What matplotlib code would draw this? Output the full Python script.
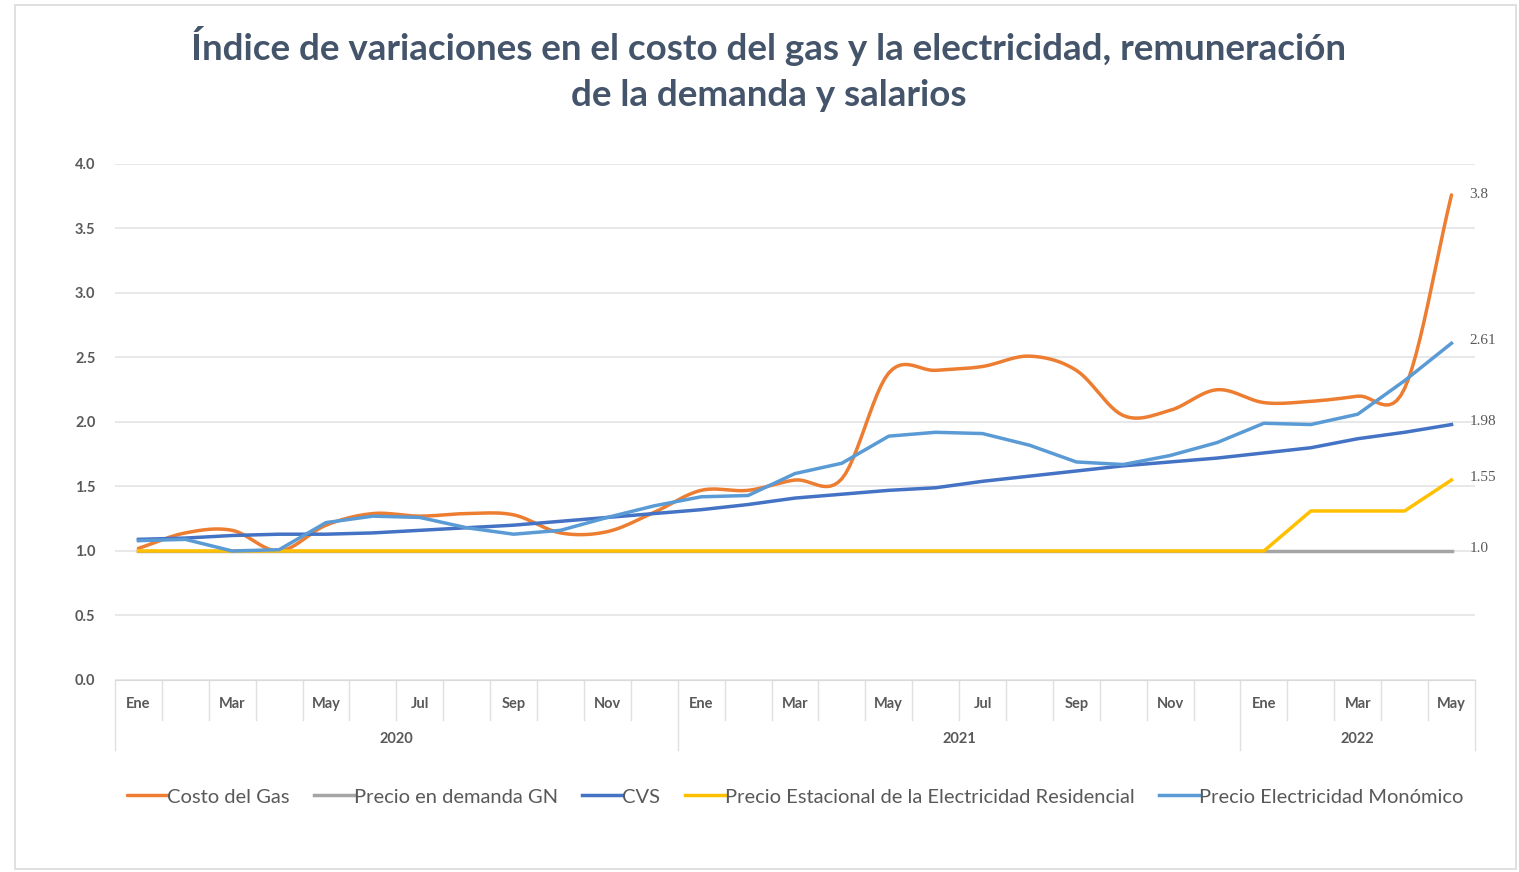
import matplotlib
matplotlib.use("Agg")
import matplotlib.pyplot as plt
import numpy as np

plt.rcParams["font.family"] = ["Lato", "DejaVu Sans"]

months = ["Ene", "Feb", "Mar", "Abr", "May", "Jun", "Jul", "Ago", "Sep", "Oct", "Nov", "Dic"] * 2 + \
         ["Ene", "Feb", "Mar", "Abr", "May"]
years = ["2020", "2021", "2022"]
year_len = [12, 12, 5]

costo_gas = [1.02, 1.14, 1.16, 1.00, 1.20, 1.29, 1.27, 1.29, 1.28, 1.14, 1.15, 1.30,
             1.47, 1.47, 1.55, 1.56, 2.38, 2.40, 2.43, 2.51, 2.40, 2.05, 2.09, 2.25,
             2.15, 2.16, 2.20, 2.26, 3.76]
demanda_gn = [1.0] * 29
cvs = [1.09, 1.10, 1.12, 1.13, 1.13, 1.14, 1.16, 1.18, 1.20, 1.23, 1.26, 1.29,
       1.32, 1.36, 1.41, 1.44, 1.47, 1.49, 1.54, 1.58, 1.62, 1.66, 1.69, 1.72,
       1.76, 1.80, 1.87, 1.92, 1.98]
estacional = [1.0] * 25 + [1.31, 1.31, 1.31, 1.55]
monomico = [1.08, 1.09, 1.00, 1.01, 1.22, 1.27, 1.26, 1.18, 1.13, 1.16, 1.26, 1.35,
            1.42, 1.43, 1.60, 1.68, 1.89, 1.92, 1.91, 1.82, 1.69, 1.67, 1.74, 1.84,
            1.99, 1.98, 2.06, 2.32, 2.61]

end_labels = ["3.8", "2.61", "1.98", "1.55", "1.0"]
end_values = [3.76, 2.61, 1.98, 1.55, 1.0]


def smooth(x, y, n=12):
    # catmull-rom curve through the points, like excel's smoothed line
    x = np.asarray(x, float)
    y = np.asarray(y, float)
    px = np.concatenate([[2 * x[0] - x[1]], x, [2 * x[-1] - x[-2]]])
    py = np.concatenate([[2 * y[0] - y[1]], y, [2 * y[-1] - y[-2]]])
    xs, ys = [], []
    t = np.linspace(0, 1, n, endpoint=False)
    for i in range(1, len(px) - 2):
        for p, out in ((px, xs), (py, ys)):
            p0, p1, p2, p3 = p[i - 1], p[i], p[i + 1], p[i + 2]
            out.extend(0.5 * (2 * p1 + (-p0 + p2) * t + (2 * p0 - 5 * p1 + 4 * p2 - p3) * t ** 2
                              + (-p0 + 3 * p1 - 3 * p2 + p3) * t ** 3))
    xs.append(x[-1])
    ys.append(y[-1])
    return xs, ys


fig = plt.figure(figsize=(15.19, 8.72), dpi=100)
ax = fig.add_axes([0.0757, 0.2202, 0.8953, 0.5918])

x = np.arange(len(months))
lw = 2.5
sx, sy = smooth(x, costo_gas)
ax.plot(sx, sy, color="#ED7D31", lw=lw, label="Costo del Gas", solid_capstyle="round")
ax.plot(x, demanda_gn, color="#A5A5A5", lw=lw, label="Precio en demanda GN")
ax.plot(x, cvs, color="#4472C4", lw=lw, label="CVS")
ax.plot(x, estacional, color="#FFC000", lw=lw, label="Precio Estacional de la Electricidad Residencial")
ax.plot(x, monomico, color="#5B9BD5", lw=lw, label="Precio Electricidad Monómico")

ax.set_xlim(-0.5, len(months) - 0.5)
ax.set_ylim(0, 4)
ax.set_yticks(np.arange(0, 4.01, 0.5))
ax.set_yticklabels([f"{v:.1f}" for v in np.arange(0, 4.01, 0.5)], fontsize=10.5,
                   fontweight="bold", color="#595959")
ax.grid(axis="y", color="#E4E4E8", lw=1.2)
ax.set_axisbelow(True)
for s in ["top", "right", "left"]:
    ax.spines[s].set_visible(False)
ax.spines["bottom"].set_color("#D9D9D9")
ax.tick_params(axis="y", length=0, pad=14)
ax.set_xticks([])

# end value labels
for lab, v in zip(end_labels, end_values):
    ax.text(len(months) - 0.5 - 0.12, v + (0.02 if lab != "3.8" else 0.0), lab, fontsize=11,
            color="#595959", family="Liberation Serif", va="center", ha="left")

# two level category axis
tr = ax.get_xaxis_transform()
for i, m in enumerate(months):
    if i % 2 == 0:
        ax.text(i, -0.047, m, transform=tr, ha="center", va="center", fontsize=10.5,
                fontweight="bold", color="#595959")
bounds = np.cumsum([0] + year_len)
for i in range(len(months) + 1):
    b = i - 0.5
    low = -0.135 if i in bounds else -0.078
    ax.plot([b, b], [0, low], transform=tr, color="#E0E0E0", lw=1.0, clip_on=False)
for k, yr in enumerate(years):
    mid = (bounds[k] + bounds[k + 1] - 1) / 2
    ax.text(mid, -0.114, yr, transform=tr, ha="center", va="center", fontsize=10.5,
            fontweight="bold", color="#595959")

ax.legend(loc="upper center", bbox_to_anchor=(0.5, -0.175), ncol=5, frameon=False,
          fontsize=14.5, handlelength=2.0, handletextpad=0.0, columnspacing=1.2,
          labelcolor="#595959")

fig.text(0.506, 0.947, "Índice de variaciones en el costo del gas y la electricidad, remuneración",
         ha="center", va="center", fontsize=26.5, fontweight="bold", color="#44546A")
fig.text(0.506, 0.891, "de la demanda y salarios",
         ha="center", va="center", fontsize=26.5, fontweight="bold", color="#44546A")

# chart border
fig.add_artist(plt.Rectangle((0.010, 0.004), 0.988, 0.990, transform=fig.transFigure,
                             fill=False, edgecolor="#DADADA", lw=1.2))

fig.savefig("out.png", dpi=100)
